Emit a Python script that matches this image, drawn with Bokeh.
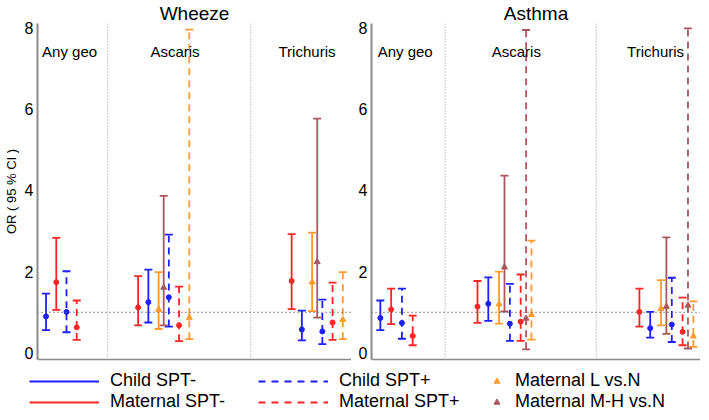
from bokeh.plotting import figure
from bokeh.models import (ColumnDataSource, Whisker, TeeHead, Span, Range1d,
                          FixedTicker, Legend, LegendItem)
from bokeh.layouts import column, row
from bokeh.core.properties import value
from bokeh.embed import file_html
from bokeh.resources import INLINE

# ---------------- data (OR, lower 95% CI, upper 95% CI); None = not shown ----
groups = ["Any geo", "Ascaris", "Trichuris"]
panels = ["Wheeze", "Asthma"]
y_ticks = [0, 2, 4, 6, 8]
y_label = "OR ( 95 % CI )"
ref_or = 1

wheeze_child_neg = [(0.90, 0.56, 1.46), (1.25, 0.75, 2.05), (0.58, 0.31, 1.04)]
wheeze_mat_neg = [(1.74, 1.06, 2.83), (1.12, 0.68, 1.89), (1.77, 1.08, 2.92)]
wheeze_child_pos = [(1.01, 0.51, 2.01), (1.37, 0.65, 2.91), (0.53, 0.22, 1.31)]
wheeze_mat_pos = [(0.63, 0.32, 1.29), (0.68, 0.29, 1.63), (0.75, 0.32, 1.73)]
wheeze_L_neg = [None, (1.07, 0.59, 1.99), (1.74, 1.03, 2.96)]
wheeze_MH_neg = [None, (1.61, 0.68, 3.86), (2.24, 0.87, 5.76)]
wheeze_L_pos = [None, (0.87, 0.34, 7.95), (0.82, 0.34, 1.99)]
wheeze_MH_pos = [None, None, None]

asthma_child_neg = [(0.86, 0.56, 1.29), (1.21, 0.79, 1.86), (0.61, 0.38, 1.01)]
asthma_mat_neg = [(1.07, 0.71, 1.58), (1.14, 0.74, 1.77), (1.01, 0.65, 1.58)]
asthma_child_pos = [(0.74, 0.35, 1.58), (0.72, 0.30, 1.70), (0.70, 0.27, 1.85)]
asthma_mat_pos = [(0.42, 0.19, 0.92), (0.77, 0.30, 1.93), (0.52, 0.19, 1.36)]
asthma_L_neg = [None, (1.20, 0.72, 2.00), (1.09, 0.68, 1.79)]
asthma_MH_neg = [None, (2.11, 1.02, 4.36), (1.14, 0.47, 2.84)]
asthma_L_pos = [None, (0.94, 0.33, 2.76), (0.41, 0.15, 1.27)]
asthma_MH_pos = [None, (0.85, 0.09, 7.94), (1.17, 0.11, 7.98)]

legend_labels = ["Child SPT-", "Maternal SPT-", "Child SPT+", "Maternal SPT+",
                 "Maternal L vs.N", "Maternal M-H vs.N"]

# ---------------- layout / style --------------------------------------------
FONT = "Liberation Sans"
BLUE, RED, ORANGE, BROWN = "#1e1eff", "#ff2424", "#ff9a30", "#a8585e"
LW = 1.8
FH = 336
NAN = float("nan")

group_start = [1, 10, 25]
dividers = [7, 21]
label_x_off = [2.3, 3.6, 1.5]
label_y = 7.4
# (offset in first group, offset in helminth groups)
slots = {"child_neg": (0, 1), "mat_neg": (1, 0), "child_pos": (2, 3),
         "mat_pos": (3, 4), "L_neg": (None, 2), "MH_neg": (None, 2.5),
         "L_pos": (None, 5), "MH_pos": (None, 4.5)}
styles = {"child_neg": (BLUE, "solid", "circle", 5),
          "mat_neg": (RED, "solid", "circle", 5),
          "child_pos": (BLUE, "7 5", "circle", 5),
          "mat_pos": (RED, "7 5", "circle", 5),
          "L_neg": (ORANGE, "solid", "triangle", 6),
          "MH_neg": (BROWN, "solid", "triangle", 6),
          "L_pos": (ORANGE, "7 5", "triangle", 6),
          "MH_pos": (BROWN, "7 5", "triangle", 6)}

wheeze = dict(child_neg=wheeze_child_neg, mat_neg=wheeze_mat_neg,
              child_pos=wheeze_child_pos, mat_pos=wheeze_mat_pos,
              L_neg=wheeze_L_neg, MH_neg=wheeze_MH_neg,
              L_pos=wheeze_L_pos, MH_pos=wheeze_MH_pos)
asthma = dict(child_neg=asthma_child_neg, mat_neg=asthma_mat_neg,
              child_pos=asthma_child_pos, mat_pos=asthma_mat_pos,
              L_neg=asthma_L_neg, MH_neg=asthma_MH_neg,
              L_pos=asthma_L_pos, MH_pos=asthma_MH_pos)


def make_panel(title, data, xr, frame_w, border_left, ylabel=None):
    p = figure(title=title, x_range=Range1d(*xr), y_range=Range1d(-0.16, 8.1),
               frame_width=frame_w, frame_height=FH, output_backend="svg",
               toolbar_location=None, min_border_left=border_left,
               min_border_right=0, min_border_top=0, min_border_bottom=5)
    p.outline_line_color = None
    p.grid.visible = False
    p.background_fill_color = "white"
    p.title.text_font = FONT
    p.title.text_font_size = "19px"
    p.title.text_font_style = "normal"
    p.title.text_color = "black"
    p.title.align = "center"
    p.title.standoff = 0
    p.title.offset = 0

    ya = p.yaxis[0]
    ya.ticker = FixedTicker(ticks=y_ticks)
    ya.major_tick_line_color = None
    ya.minor_tick_line_color = None
    ya.major_tick_out = 0
    ya.major_tick_in = 0
    ya.minor_tick_out = 0
    ya.minor_tick_in = 0
    ya.axis_line_color = "#8a8a8a"
    ya.axis_line_width = 2
    ya.major_label_text_font = FONT
    ya.major_label_text_font_size = "16px"
    ya.major_label_text_color = "black"
    ya.major_label_standoff = 4
    if ylabel:
        ya.axis_label = ylabel
        ya.axis_label_text_font = FONT
        ya.axis_label_text_font_size = "13px"
        ya.axis_label_text_font_style = "normal"
        ya.axis_label_text_color = "black"
        ya.axis_label_standoff = 3

    xa = p.xaxis[0]
    xa.ticker = FixedTicker(ticks=[])
    xa.major_label_text_font_size = "0px"
    xa.major_tick_line_color = None
    xa.minor_tick_line_color = None
    xa.major_tick_out = 0
    xa.major_tick_in = 0
    xa.minor_tick_out = 0
    xa.minor_tick_in = 0
    xa.axis_line_color = "#8a8a8a"
    xa.axis_line_width = 1.5
    xa.major_label_standoff = 0

    for d in dividers:
        p.add_layout(Span(location=d, dimension="height", line_color="#9a9a9a",
                          line_dash="1 2", line_width=1))
    p.add_layout(Span(location=ref_or, dimension="width", line_color="#555555",
                      line_dash="1 3", line_width=1.3))

    p.text(x=[group_start[i] + label_x_off[i] for i in range(len(groups))],
           y=[label_y] * len(groups), text=groups, text_align="center",
           text_baseline="middle", text_font=value(FONT),
           text_font_size="15px", text_color="black")

    for key, (color, dash, marker, msize) in styles.items():
        xs, ys, los, his = [], [], [], []
        for gi, rec in enumerate(data[key]):
            if rec is None:
                continue
            off = slots[key][0 if gi == 0 else 1]
            xs.append(group_start[gi] + off)
            ys.append(rec[0])
            los.append(rec[1])
            his.append(rec[2])
        if not xs:
            continue
        src = ColumnDataSource(dict(x=xs, y=ys, lo=los, hi=his))
        p.add_layout(Whisker(source=src, base="x", upper="hi", lower="lo",
                             dimension="height", line_color=color,
                             line_width=LW, line_dash=dash,
                             upper_head=TeeHead(size=8, line_color=color, line_width=LW),
                             lower_head=TeeHead(size=8, line_color=color, line_width=LW)))
        p.scatter("x", "y", source=src, marker=marker, size=msize,
                  fill_color=color, line_color=color)
    return p


p1 = make_panel(panels[0], wheeze, (0.166, 30.85), 314, 30, y_label)
p2 = make_panel(panels[1], asthma, (0.18, 30.66), 329, 20)

# ---------------- legend strip ------------------------------------------------
leg = figure(width=693, height=48, output_backend="svg", toolbar_location=None,
             x_axis_location=None, y_axis_location=None, min_border=0,
             x_range=Range1d(0, 1), y_range=Range1d(0, 1))
leg.outline_line_color = None
leg.grid.visible = False

# placeholder renderers (NaN, nothing drawn) used only for legend samples
r_cn = leg.line(x=[NAN], y=[NAN], line_color=BLUE, line_width=LW)
r_mn = leg.line(x=[NAN], y=[NAN], line_color=RED, line_width=LW)
r_cp = leg.line(x=[NAN], y=[NAN], line_color=BLUE, line_width=LW, line_dash="7 6")
r_mp = leg.line(x=[NAN], y=[NAN], line_color=RED, line_width=LW, line_dash="7 6")
r_l = leg.scatter(x=[NAN], y=[NAN], marker="triangle", fill_color=ORANGE, line_color=ORANGE)
r_mh = leg.scatter(x=[NAN], y=[NAN], marker="triangle", fill_color=BROWN, line_color=BROWN)


def make_legend(items, loc, gw):
    return Legend(items=[LegendItem(label=l, renderers=[r]) for l, r in items],
                  location=loc, orientation="vertical", glyph_width=gw,
                  glyph_height=16, label_standoff=11, spacing=0, padding=0,
                  margin=0, border_line_color=None, background_fill_alpha=0,
                  label_text_font=FONT, label_text_font_size="18px",
                  label_text_color="black")


leg.add_layout(make_legend([(legend_labels[0], r_cn), (legend_labels[1], r_mn)], (29, 0), 70))
leg.add_layout(make_legend([(legend_labels[2], r_cp), (legend_labels[3], r_mp)], (258, 0), 70))
leg.add_layout(make_legend([(legend_labels[4], r_l), (legend_labels[5], r_mh)], (489, 0), 15))

layout = column(row(p1, p2, spacing=0), leg, spacing=0)

html = file_html(layout, INLINE, "OR plot")
open("out.html", "w").write(html)
